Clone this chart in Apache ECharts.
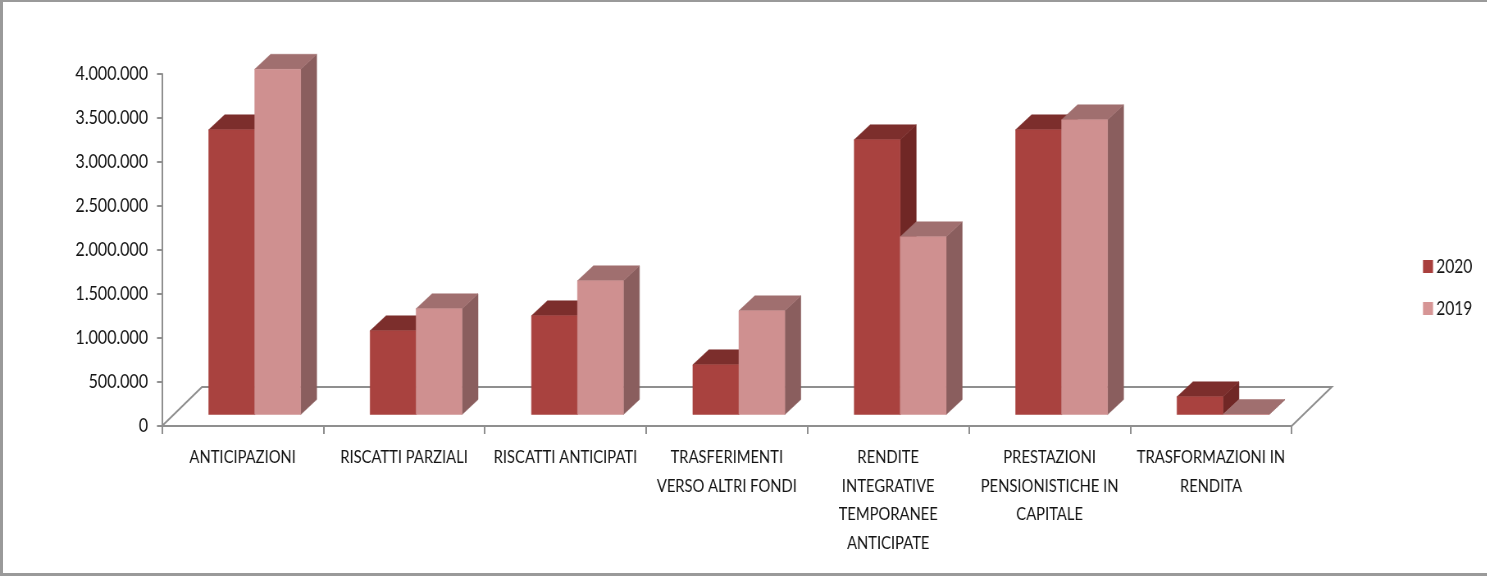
<!DOCTYPE html>
<html>
<head>
<meta charset="utf-8">
<style>
html,body{margin:0;padding:0;background:#fff;overflow:hidden;}
#page{position:relative;width:1487px;height:576px;overflow:hidden;}
#chart{height:576px;transform-origin:0 0;}
#frame{position:absolute;left:0;top:0;width:1487px;height:576px;box-sizing:border-box;border-top:2px solid #9a9a9a;border-left:3px solid #9a9a9a;border-bottom:3px solid #9a9a9a;pointer-events:none;}
</style>
<script src="https://cdn.jsdelivr.net/npm/echarts@6/dist/echarts.min.js"></script>
</head>
<body>
<div id="page">
<div id="chart"></div>
<div id="frame"></div>
</div>
<script>
const categories = [
  "ANTICIPAZIONI",
  "RISCATTI PARZIALI",
  "RISCATTI ANTICIPATI",
  "TRASFERIMENTI\nVERSO ALTRI FONDI",
  "RENDITE\nINTEGRATIVE\nTEMPORANEE\nANTICIPATE",
  "PRESTAZIONI\nPENSIONISTICHE IN\nCAPITALE",
  "TRASFORMAZIONI IN\nRENDITA"
];
const values2020 = [3235000, 951000, 1122000, 565000, 3122000, 3235000, 201000];
const values2019 = [3923000, 1201000, 1519000, 1178000, 2019000, 3349000, 0];

// The reference is a horizontally squeezed picture: the whole chart is drawn wide and squeezed the same way.
const SX = 0.82;
const X = v => v / SX;
const el = document.getElementById('chart');
el.style.width = X(1487) + 'px';
el.style.transform = 'scaleX(' + SX + ')';

const FONT = 'Lato,"Liberation Sans",sans-serif';
const TEXT = '#141414', AXIS = '#8f8f8f';
const BAR_W = X(46), DX = X(16), DY = 15, BASE_DX = X(12), BASE_DY = 11.5, FLOOR_DX = X(40), FLOOR_DY = 39;

function polygon(points, fill) {
  return {type:'polygon', shape:{points}, style:{fill, stroke:fill, lineWidth:0.5}};
}
function barRenderer(slot, front, top, side) {
  return function (params, api) {
    const base = api.coord([api.value(0), 0]);
    const head = api.coord([api.value(0), api.value(1)]);
    const x0 = base[0] + BASE_DX + (slot - 1) * BAR_W, x1 = x0 + BAR_W;
    const y0 = base[1] - BASE_DY, y1 = head[1] - BASE_DY;
    return {type:'group', children:[
      polygon([[x1,y0],[x1+DX,y0-DY],[x1+DX,y1-DY],[x1,y1]], side),
      polygon([[x0,y1],[x1,y1],[x1+DX,y1-DY],[x0+DX,y1-DY]], top),
      polygon([[x0,y0],[x1,y0],[x1,y1],[x0,y1]], front)
    ]};
  };
}
function floorRenderer(params) {
  const c = params.coordSys;
  const l = c.x, r = c.x + c.width, b = c.y + c.height;
  return {type:'polyline', silent:true,
    shape:{points:[[l,b],[l+FLOOR_DX,b-FLOOR_DY],[r+FLOOR_DX,b-FLOOR_DY],[r,b]]},
    style:{fill:null, stroke:AXIS, lineWidth:2}};
}

const chart = echarts.init(el, null, {renderer:'canvas'});
chart.setOption({
  animation:false,
  backgroundColor:'#fff',
  grid:{left:X(162), right:X(195), top:74, bottom:150, containLabel:false},
  legend:{
    left:X(1423), top:257, padding:0, orient:'vertical', itemWidth:X(10), itemHeight:13, itemGap:23,
    icon:'rect', selectedMode:false,
    textStyle:{fontFamily:FONT, fontSize:19, color:TEXT, padding:[0,0,0,-1]},
    data:[{name:'2020', itemStyle:{color:'#A93F3D'}}, {name:'2019', itemStyle:{color:'#D69595'}}]
  },
  xAxis:{
    type:'category', data:categories, boundaryGap:true,
    axisLine:{lineStyle:{color:AXIS, width:2}},
    axisTick:{show:true, alignWithLabel:false, length:8, lineStyle:{color:AXIS, width:2}},
    axisLabel:{interval:0, margin:17, fontFamily:FONT, fontSize:18, color:TEXT, lineHeight:28.6, verticalAlign:'top', width:X(170), overflow:'none'}
  },
  yAxis:{
    type:'value', min:0, max:4000000, interval:500000,
    axisLine:{show:true, lineStyle:{color:AXIS, width:2}},
    axisTick:{show:true, length:X(5), lineStyle:{color:AXIS, width:2}},
    splitLine:{show:false},
    axisLabel:{margin:X(14), fontFamily:FONT, fontSize:19.5, color:TEXT, padding:[5,0,0,0],
      formatter:v => String(v).replace(/\B(?=(\d{3})+(?!\d))/g, '.')}
  },
  series:[
    {type:'custom', name:'floor', silent:true, z:1, data:[[0,0]], renderItem:floorRenderer, encode:{x:0,y:1}},
    {type:'custom', name:'2020', z:2, itemStyle:{color:'#A93F3D'}, encode:{x:0,y:1},
      data:values2020.map((v,i)=>[i,v]), renderItem:barRenderer(0,'#A9423F','#7C2E2C','#702725')},
    {type:'custom', name:'2019', z:3, itemStyle:{color:'#D69595'}, encode:{x:0,y:1},
      data:values2019.map((v,i)=>[i,v]), renderItem:barRenderer(1,'#CF9090','#A06F6F','#8A5E5E')}
  ]
});
</script>
</body>
</html>
